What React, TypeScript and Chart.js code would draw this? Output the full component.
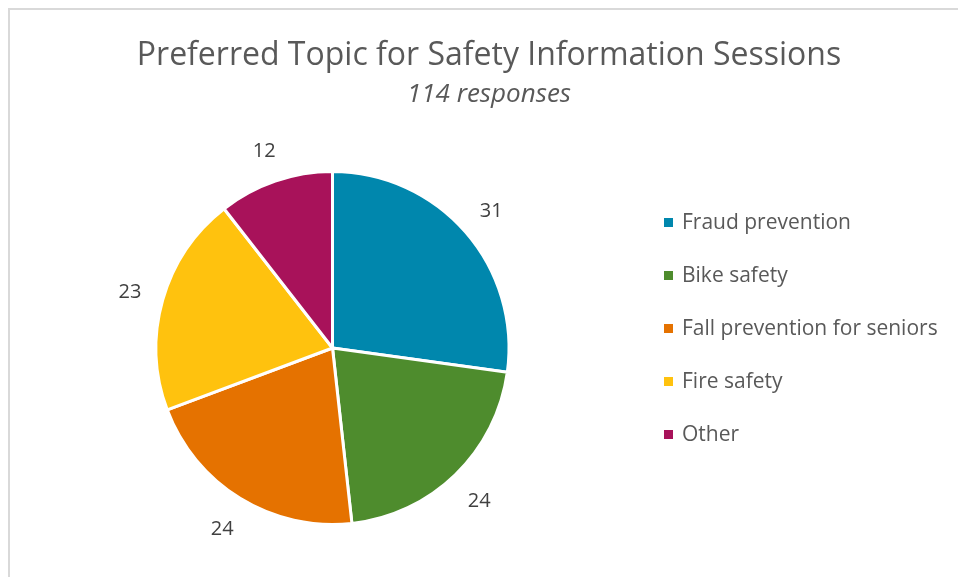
import React, { useEffect, useRef } from "react";
import { Chart, registerables } from "chart.js";

Chart.register(...registerables);

const titleText = "Preferred Topic for Safety Information Sessions";
const subtitleText = "114 responses";
const categories = ["Fraud prevention", "Bike safety", "Fall prevention for seniors", "Fire safety", "Other"];
const counts = [31, 24, 24, 23, 12];
const colors = ["#0087AD", "#4E8C2D", "#E57200", "#FFC20E", "#A8125A"];

const FONT = "'Open Sans', 'Noto Sans', sans-serif";

const overlay = {
  id: "overlay",
  beforeDraw(chart: any) {
    const ctx = chart.ctx;
    ctx.save();
    ctx.fillStyle = "#ffffff";
    ctx.fillRect(0, 0, chart.width, chart.height);
    ctx.fillStyle = "#d9d9d9";
    ctx.fillRect(8, 8, chart.width - 8, 2);
    ctx.fillRect(8, 8, 2, chart.height - 8);
    ctx.restore();
  },
  afterDraw(chart: any) {
    const ctx = chart.ctx;
    ctx.save();
    // title
    ctx.fillStyle = "#595959";
    ctx.textAlign = "center";
    ctx.textBaseline = "alphabetic";
    ctx.font = `32px ${FONT}`;
    ctx.fillText(titleText, 489, 65);
    ctx.font = `italic 26px ${FONT}`;
    ctx.fillText(subtitleText, 489, 102);

    // data labels
    const meta = chart.getDatasetMeta(0);
    const ds = chart.data.datasets[0];
    ctx.font = `20px ${FONT}`;
    ctx.fillStyle = "#404040";
    ctx.textBaseline = "middle";
    meta.data.forEach((arc: any, i: number) => {
      const p = arc.getProps(["x", "y", "startAngle", "endAngle", "outerRadius"], true);
      const mid = (p.startAngle + p.endAngle) / 2;
      const r = p.outerRadius + 34;
      ctx.fillText(String(ds.data[i]), p.x + Math.cos(mid) * r, p.y + Math.sin(mid) * r + 2);
    });

    // legend
    ctx.textAlign = "left";
    ctx.font = `21px ${FONT}`;
    chart.data.labels.forEach((lab: string, i: number) => {
      const y = 222 + i * 53;
      ctx.fillStyle = ds.backgroundColor[i];
      ctx.fillRect(664, y - 4, 9, 9);
      ctx.fillStyle = "#595959";
      ctx.fillText(lab, 682, y + 1);
    });
    ctx.restore();
  },
};

export default function App() {
  const ref = useRef<HTMLCanvasElement | null>(null);
  useEffect(() => {
    if (!ref.current) return;
    const chart = new Chart(ref.current, {
      type: "pie",
      data: {
        labels: categories,
        datasets: [
          {
            data: counts,
            backgroundColor: colors,
            borderColor: "#ffffff",
            borderWidth: 3,
            hoverOffset: 0,
          },
        ],
      },
      options: {
        animation: false,
        responsive: false,
        events: [],
        layout: { padding: { left: 154, right: 447, top: 170, bottom: 51 } },
        plugins: {
          legend: { display: false },
          title: { display: false },
          tooltip: { enabled: false },
        },
      },
      plugins: [overlay],
    });
    return () => chart.destroy();
  }, []);
  return (
    <canvas
      ref={ref}
      width={958}
      height={577}
      style={{ position: "fixed", left: 0, top: 0, width: 958, height: 577 }}
    />
  );
}
